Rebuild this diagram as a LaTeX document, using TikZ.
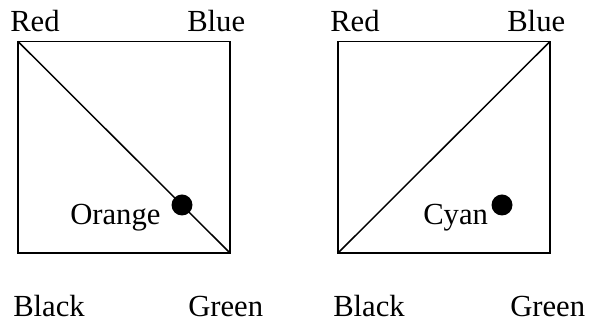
\documentclass[tikz,border=0pt]{standalone}
\usepackage{fontspec}
\setmainfont{Liberation Serif}
\begin{document}
\begin{tikzpicture}[
  x=0.75pt,
  y=0.75pt,
  font=\fontsize{23}{27}\selectfont,
  frame/.style={draw=black,line width=1.1pt},
  tag/.style={inner sep=0pt,anchor=base west,text=black},
  marker/.style={fill=black,draw=none}
]
\useasboundingbox (0,0) rectangle (590,324);

% left panel: diagonal from Red down to Green
\begin{scope}[xshift=13.5pt,yshift=53.25pt]
\draw[frame] (0,0) rectangle (212,211.5);
\coordinate (redA) at (0,211.5);
\coordinate (greenA) at (212,0);
\draw[frame] (redA) -- (greenA);
\fill[marker] (164,48) circle[radius=10.5];
\node[tag] (redlabelA) at (-8,221) {Red};
\node[tag] (bluelabelA) at (169,221) {Blue};
\node[tag] (blacklabelA) at (-5,-64) {Black};
\node[tag] (greenlabelA) at (170,-64) {Green};
\node[tag] (orangelabel) at (52,28) {Orange};
\end{scope}

% right panel: diagonal from Black up to Blue
\begin{scope}[xshift=253.5pt,yshift=53.25pt]
\draw[frame] (0,0) rectangle (212,211.5);
\coordinate (blackB) at (0,0);
\coordinate (blueB) at (212,211.5);
\draw[frame] (blackB) -- (blueB);
\fill[marker] (164,48) circle[radius=10.5];
\node[tag] (redlabelB) at (-8,221) {Red};
\node[tag] (bluelabelB) at (169,221) {Blue};
\node[tag] (blacklabelB) at (-5,-64) {Black};
\node[tag] (greenlabelB) at (172,-64) {Green};
\node[tag] (cyanlabel) at (85,28) {Cyan};
\end{scope}
\end{tikzpicture}
\end{document}
